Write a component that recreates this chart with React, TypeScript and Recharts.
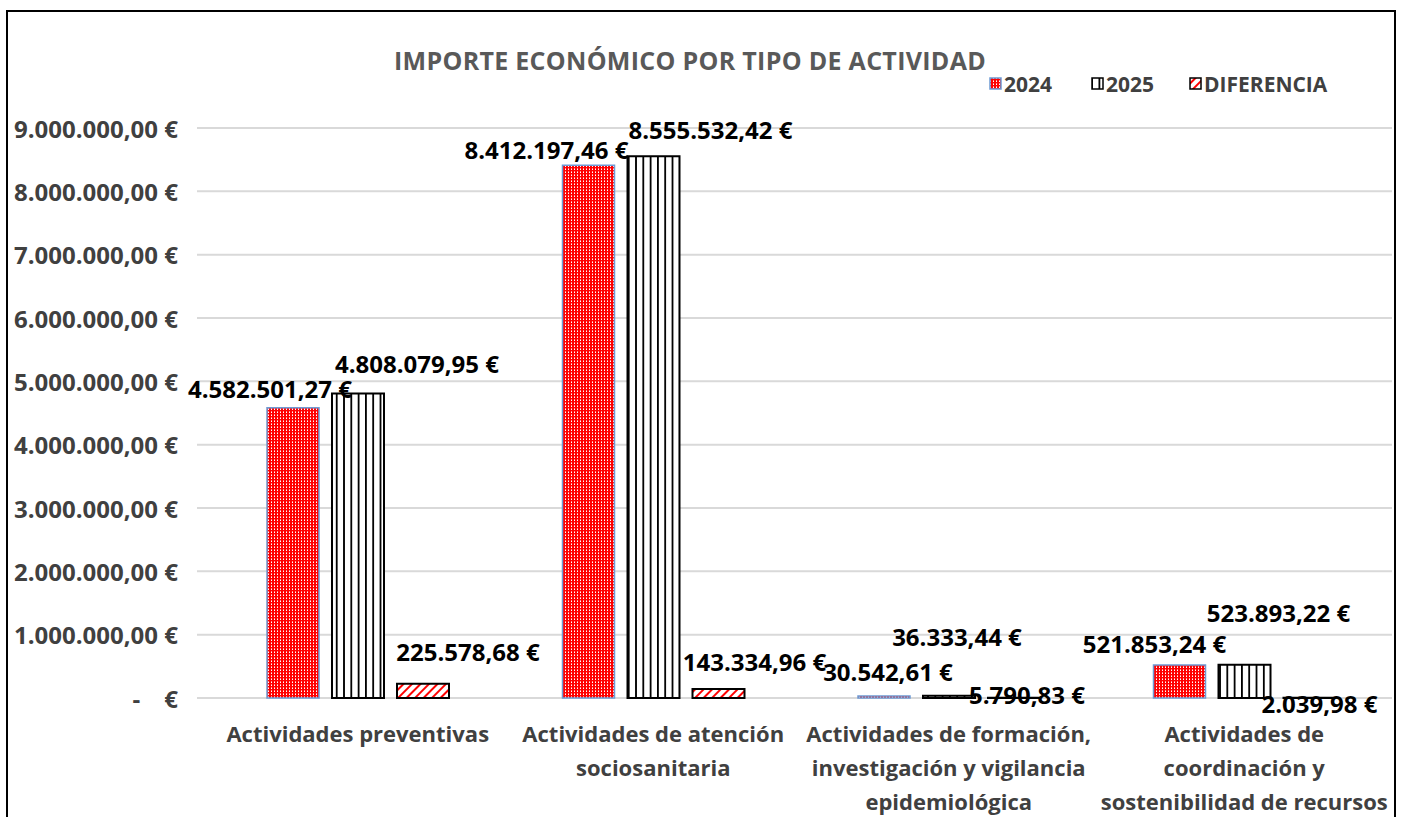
import { BarChart, Bar, XAxis, YAxis, CartesianGrid, Legend, LabelList } from 'recharts';

// Importe por tipo de actividad (valores en €)
const CATEGORIES = [
  'Actividades preventivas',
  'Actividades de atención sociosanitaria',
  'Actividades de formación, investigación y vigilancia epidemiológica',
  'Actividades de coordinación y sostenibilidad de recursos',
];
const CATEGORY_LINES = [
  ['Actividades preventivas'],
  ['Actividades de atención', 'sociosanitaria'],
  ['Actividades de formación,', 'investigación y vigilancia', 'epidemiológica'],
  ['Actividades de', 'coordinación y', 'sostenibilidad de recursos'],
];
const VALUES_2024 = [4582501.27, 8412197.46, 30542.61, 521853.24];
const VALUES_2025 = [4808079.95, 8555532.42, 36333.44, 523893.22];
const VALUES_DIFF = [225578.68, 143334.96, 5790.83, 2039.98];
const Y_TICKS = [0, 1000000, 2000000, 3000000, 4000000, 5000000, 6000000, 7000000, 8000000, 9000000];

// label offsets (dx, dy from top centre of bar), mimicking the hand-placed Excel labels
const OFFSETS_2024 = [[-23, -19], [-42, -16], [4, -25], [-25, -21]];
const OFFSETS_2025 = [[59, -30], [57, -27], [8, -59], [34, -52]];
const OFFSETS_DIFF = [[45, -32], [36, -27], [13, -3], [10, 6]];

const data = CATEGORIES.map((name, i) => ({
  name,
  y2024: VALUES_2024[i],
  y2025: VALUES_2025[i],
  diff: VALUES_DIFF[i],
}));

const FONT = '"Open Sans", sans-serif';
const PLOT_BOTTOM = 698;

const eur = (v: number) => {
  const [int, dec] = v.toFixed(2).split('.');
  return `${int.replace(/\B(?=(\d{3})+(?!\d))/g, '.')},${dec} €`;
};

const makeLabel = (offsets: number[][]) => (props: any) => {
  const { x, y, width, index, value } = props;
  const [dx, dy] = offsets[index];
  return (
    <text
      x={Number(x) + Number(width) / 2 + dx}
      y={Number(y) + dy}
      textAnchor="middle"
      dominantBaseline="central"
      fontFamily={FONT}
      fontWeight={700}
      fontSize={24}
      fill="#000"
    >
      {eur(value)}
    </text>
  );
};

const YTick = (props: any) => {
  const { y, payload } = props;
  const label = payload.value === 0 ? '-\u2002\u2002€' : eur(payload.value);
  return (
    <text x={178} y={y} textAnchor="end" dominantBaseline="central" fontFamily={FONT} fontWeight={700} fontSize={24} fill="#404040">
      {label}
    </text>
  );
};

const XTick = (props: any) => {
  const { x, index } = props;
  const lines = CATEGORY_LINES[index] || [];
  return (
    <text textAnchor="middle" fontFamily={FONT} fontWeight={700} fontSize={22} fill="#404040">
      {lines.map((line, i) => (
        <tspan key={i} x={x} y={PLOT_BOTTOM + 35 + i * 34} dominantBaseline="central">
          {line}
        </tspan>
      ))}
    </text>
  );
};

const LEGEND_ITEMS = [
  { label: '2024', fill: 'url(#p2024)', stroke: '#6e9ad4', x: 0 },
  { label: '2025', fill: 'url(#p2025)', stroke: '#000', x: 102 },
  { label: 'DIFERENCIA', fill: 'url(#pDiff)', stroke: '#000', x: 200 },
];

const renderLegend = () => (
  <svg width={360} height={26}>
    {LEGEND_ITEMS.map((it) => (
      <g key={it.label}>
        <rect x={it.x + 1} y={7} width={11} height={11} fill={it.fill} stroke={it.stroke} strokeWidth={1.5} />
        <text x={it.x + 15} y={13} dominantBaseline="central" fontFamily={FONT} fontWeight={700} fontSize={21} fill="#404040">
          {it.label}
        </text>
      </g>
    ))}
  </svg>
);

export default function App() {
  return (
    <div style={{ position: 'fixed', left: 0, top: 0, width: 1404, height: 817, overflow: 'hidden', background: '#fff' }}>
      <div
        style={{
          position: 'absolute',
          left: 6,
          top: 10,
          width: 1390,
          height: 900,
          border: '2px solid #000',
          boxSizing: 'border-box',
        }}
      />
      <div
        style={{
          position: 'absolute',
          left: 394,
          top: 43,
          fontFamily: FONT,
          fontWeight: 700,
          fontSize: 25,
          letterSpacing: 0.3,
          color: '#595959',
          whiteSpace: 'nowrap',
        }}
      >
        IMPORTE ECONÓMICO POR TIPO DE ACTIVIDAD
      </div>
      <div style={{ position: 'absolute', left: 0, top: 0 }}>
        <BarChart
          width={1404}
          height={817}
          data={data}
          margin={{ top: 128, right: 12, bottom: 9, left: 0 }}
          barSize={52}
          barGap={13}
        >
          <defs>
            <pattern id="p2024" patternUnits="userSpaceOnUse" width={3} height={3}>
              <rect width={3} height={3} fill="#ff0000" />
              <rect x={1} y={1} width={1} height={1} fill="#ffffff" />
              <rect x={1} y={0} width={1} height={1} fill="#ff9090" />
            </pattern>
            <pattern id="p2025" patternUnits="userSpaceOnUse" width={7.3} height={10}>
              <rect width={7.3} height={10} fill="#ffffff" />
              <rect x={0} y={0} width={1.8} height={10} fill="#000" />
            </pattern>
            <pattern id="pDiff" patternUnits="userSpaceOnUse" width={6} height={6} patternTransform="rotate(45)">
              <rect width={6} height={6} fill="#ffffff" />
              <rect x={0} y={0} width={2} height={6} fill="#ff0000" />
            </pattern>
          </defs>
          <CartesianGrid vertical={false} stroke="#d9d9d9" strokeWidth={2} />
          <XAxis
            dataKey="name"
            axisLine={false}
            tickLine={false}
            height={110}
            interval={0}
            padding={{ left: 13, right: 0 }}
            tick={<XTick />}
          />
          <YAxis
            width={197}
            domain={[0, 9000000]}
            ticks={Y_TICKS}
            axisLine={false}
            tickLine={false}
            tick={<YTick />}
          />
          <Legend
            layout="vertical"
            align="center"
            verticalAlign="middle"
            content={renderLegend}
            wrapperStyle={{ top: 71, left: 989, width: 360, height: 26 }}
          />
          <Bar dataKey="y2024" name="2024" fill="url(#p2024)" stroke="#6e9ad4" strokeWidth={1.5} isAnimationActive={false}>
            <LabelList dataKey="y2024" content={makeLabel(OFFSETS_2024)} />
          </Bar>
          <Bar dataKey="y2025" name="2025" fill="url(#p2025)" stroke="#000" strokeWidth={2} isAnimationActive={false}>
            <LabelList dataKey="y2025" content={makeLabel(OFFSETS_2025)} />
          </Bar>
          <Bar dataKey="diff" name="DIFERENCIA" fill="url(#pDiff)" stroke="#000" strokeWidth={2} isAnimationActive={false}>
            <LabelList dataKey="diff" content={makeLabel(OFFSETS_DIFF)} />
          </Bar>
        </BarChart>
      </div>
    </div>
  );
}
